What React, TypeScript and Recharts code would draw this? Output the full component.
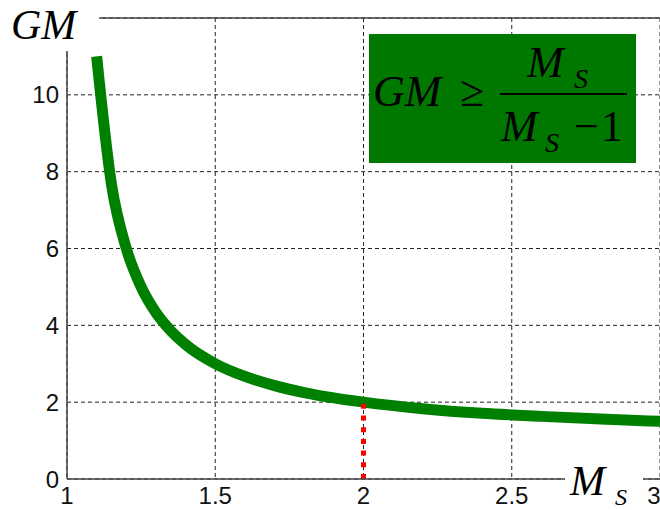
import { LineChart, Line, XAxis, YAxis, CartesianGrid, ReferenceLine } from 'recharts';

// values
const MS = [1.1, 1.15, 1.2, 1.25, 1.3, 1.35, 1.4, 1.5, 1.6, 1.7, 1.8, 1.9, 2.0, 2.2, 2.4, 2.6, 2.8, 3.0];
const GM = [11.0, 7.67, 6.0, 5.0, 4.33, 3.86, 3.5, 3.0, 2.67, 2.43, 2.25, 2.11, 2.0, 1.83, 1.71, 1.63, 1.56, 1.5];

const X_TICKS = [1, 1.5, 2, 2.5, 3];
const Y_TICKS = [0, 2, 4, 6, 8, 10];

const data = MS.map((ms, i) => ({ ms, gm: GM[i] }));

const serif = '"Liberation Serif", "Times New Roman", serif';
const axisColor = '#444';

export default function App() {
  return (
    <div style={{ position: 'absolute', left: 0, top: 0, width: 660, height: 510, background: '#fff', overflow: 'hidden' }}>
      <LineChart width={660} height={510} data={data} margin={{ top: 18, right: 0, bottom: 0, left: 17 }}>
        <CartesianGrid stroke="#222" strokeDasharray="4 3" />
        <XAxis
          dataKey="ms"
          type="number"
          domain={[1, 3]}
          ticks={X_TICKS}
          height={31}
          tickLine={false}
          stroke={axisColor}
          strokeWidth={1.5}
          tick={{ fill: '#111', fontSize: 24, fontFamily: '"Liberation Sans", Arial, sans-serif' }}
        />
        <YAxis
          type="number"
          domain={[0, 12]}
          ticks={Y_TICKS}
          width={50}
          tickLine={false}
          stroke={axisColor}
          strokeWidth={1.5}
          tick={{ fill: '#111', fontSize: 24, fontFamily: '"Liberation Sans", Arial, sans-serif' }}
        />
        <ReferenceLine y={12} stroke={axisColor} strokeWidth={1.5} />
        <Line
          type="monotone"
          dataKey="gm"
          stroke="#008000"
          strokeWidth={11}
          strokeLinecap="butt"
          dot={false}
          isAnimationActive={false}
        />
        <ReferenceLine
          segment={[{ x: 2, y: 0 }, { x: 2, y: 2 }]}
          stroke="#ff0000"
          strokeWidth={5}
          strokeDasharray="5 6.7"
        />
      </LineChart>

      <svg width={660} height={510} style={{ position: 'absolute', left: 0, top: 0, pointerEvents: 'none' }}>
        {/* GM axis label */}
        <rect x={0} y={0} width={99} height={51} fill="#fff" />
        <text x={11} y={39} fontFamily={serif} fontStyle="italic" fontSize={42} fill="#000">GM</text>

        {/* M_S axis label */}
        <rect x={565} y={458} width={78} height={52} fill="#fff" />
        <text x={570} y={495} fontFamily={serif} fontStyle="italic" fontSize={42} fill="#000">M</text>
        <text x={615} y={505} fontFamily={serif} fontStyle="italic" fontSize={24} fill="#000">S</text>

        {/* formula box */}
        <rect x={369} y={34} width={267} height={129} fill="#007800" />
        <text x={373} y={106} fontFamily={serif} fontStyle="italic" fontSize={44} fill="#000">GM</text>
        <text x={460} y={106} fontFamily={serif} fontSize={44} fill="#000">≥</text>
        <text x={527} y={77} fontFamily={serif} fontStyle="italic" fontSize={44} fill="#000">M</text>
        <text x={574} y={88} fontFamily={serif} fontStyle="italic" fontSize={28} fill="#000">S</text>
        <rect x={500} y={93} width={127} height={2} fill="#000" />
        <text x={501} y={141} fontFamily={serif} fontStyle="italic" fontSize={44} fill="#000">M</text>
        <text x={545} y={152} fontFamily={serif} fontStyle="italic" fontSize={28} fill="#000">S</text>
        <text x={574} y={141} fontFamily={serif} fontSize={44} fill="#000">−</text>
        <text x={601} y={141} fontFamily={serif} fontSize={44} fill="#000">1</text>
      </svg>
    </div>
  );
}
